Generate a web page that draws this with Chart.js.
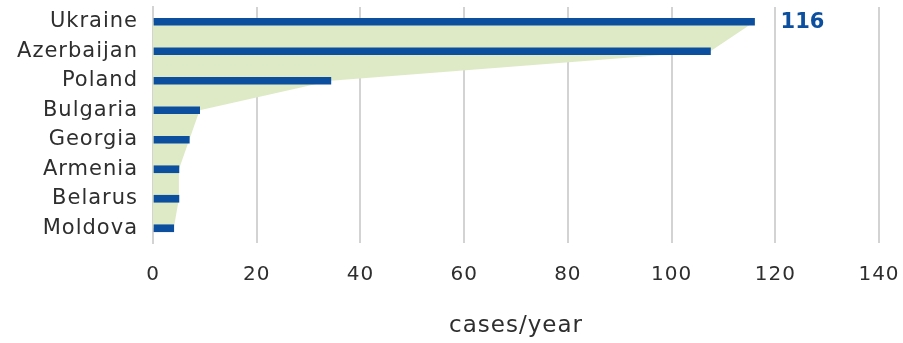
<!DOCTYPE html>
<html>
<head>
<meta charset="utf-8">
<script src="https://cdn.jsdelivr.net/npm/chart.js@4/dist/chart.umd.min.js"></script>
<style>
html,body{margin:0;padding:0;background:#fff;}
#wrap{width:903px;height:343px;position:relative;}
</style>
</head>
<body>
<div id="wrap"><canvas id="grafico"></canvas></div>
<script>
// Dados
const countries = ["Ukraine","Azerbaijan","Poland","Bulgaria","Georgia","Armenia","Belarus","Moldova"];
const cases = [116,107.5,34.3,9,7,5,5,4];
const xTicks = [0,20,40,60,80,100,120,140];
const labelValue = "116";

const blue = "#0b4f9e";
const font = "'DejaVu Sans', sans-serif";

// espaçamento entre letras (a fonte original é mais larga)
const spacing = {
  id: "spacing",
  beforeUpdate(chart){ chart.ctx.letterSpacing = "1px"; },
  beforeDraw(chart){ chart.ctx.letterSpacing = "1px"; }
};

// rótulo no fim da primeira barra
const endLabel = {
  id: "endLabel",
  afterDatasetsDraw(chart){
    const bar = chart.getDatasetMeta(0).data[0];
    const c = chart.ctx;
    c.save();
    c.letterSpacing = "0px";
    c.font = "bold 21px " + font;
    c.fillStyle = blue;
    c.textBaseline = "middle";
    c.fillText(labelValue, bar.x + 26, bar.y + 1);
    c.restore();
  }
};

const ctx = document.getElementById("grafico");

new Chart(ctx,{
  data:{
    labels: countries,
    datasets:[
      {
        type:"bar",
        data: cases,
        backgroundColor: blue,
        barThickness: 7,
        order: 1
      },
      {
        type:"line",
        data: cases,
        backgroundColor: "#deeac6",
        borderWidth: 0,
        pointRadius: 0,
        fill: "origin",
        tension: 0,
        order: 2
      }
    ]
  },
  options:{
    indexAxis:"y",
    responsive:true,
    maintainAspectRatio:false,
    animation:false,
    layout:{padding:{top:7,right:24,bottom:0,left:0}},
    plugins:{legend:{display:false},tooltip:{enabled:false}},
    scales:{
      x:{
        min:0,
        max:140,
        afterBuildTicks(s){ s.ticks = xTicks.map(v => ({value:v})); },
        afterFit(s){ s.height = 100; s.paddingLeft = 0; s.paddingRight = 0; },
        grid:{color:"#d3d3d3",lineWidth:2,drawTicks:false},
        border:{display:false},
        ticks:{color:"#2e2e2e",font:{family:font,size:20},padding:20},
        title:{display:true,text:"cases/year",color:"#2e2e2e",font:{family:font,size:23},padding:{top:0,bottom:3}}
      },
      y:{
        afterFit(s){ s.width = 153; s.paddingTop = 0; s.paddingBottom = 0; },
        grid:{display:false,drawTicks:false},
        border:{display:true,color:"#d3d3d3",width:2},
        ticks:{color:"#2e2e2e",font:{family:font,size:21},padding:15,autoSkip:false}
      }
    }
  },
  plugins:[spacing,endLabel]
});
</script>
</body>
</html>
